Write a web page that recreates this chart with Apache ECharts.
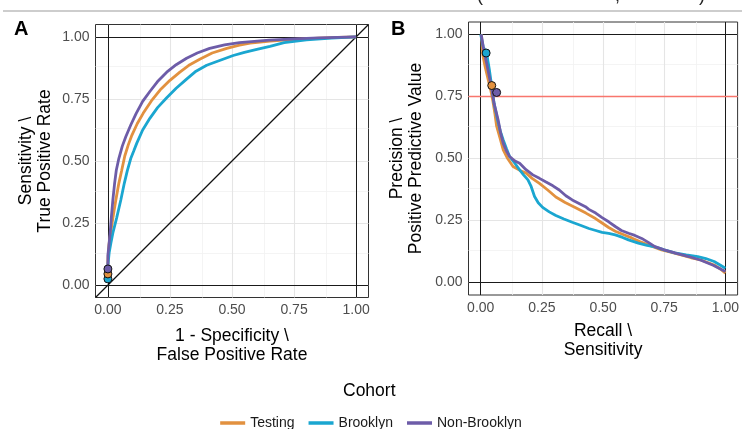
<!DOCTYPE html>
<html>
<head>
<meta charset="utf-8">
<script src="https://cdn.jsdelivr.net/npm/echarts@6/dist/echarts.min.js"></script>
<style>
  html, body { margin: 0; padding: 0; background: #fff; }
  #chart { width: 742px; height: 429px; }
</style>
</head>
<body>
<div id="chart"></div>
<script>
// Cohorts and their colours
const cohorts = ['Testing', 'Brooklyn', 'Non-Brooklyn'];
const cohortColors = ['#E2913F', '#1AA6D0', '#6D5CA8'];

// Axis ticks shared by both panels
const tickValues = [0, 0.25, 0.5, 0.75, 1];
const minorValues = [0.125, 0.375, 0.625, 0.875];

// ROC curves: [false positive rate, true positive rate]
const rocTesting = [
  [0, 0.045], [0, 0.1], [0.004, 0.16], [0.011, 0.21], [0.02, 0.27], [0.032, 0.343],
  [0.044, 0.41], [0.055, 0.46], [0.068, 0.52], [0.082, 0.565], [0.095, 0.6],
  [0.118, 0.65], [0.142, 0.692], [0.175, 0.742], [0.21, 0.786], [0.25, 0.825],
  [0.29, 0.858], [0.33, 0.888], [0.37, 0.91], [0.42, 0.935], [0.479, 0.954],
  [0.53, 0.967], [0.573, 0.975], [0.653, 0.983], [0.75, 0.99], [0.85, 0.995],
  [0.93, 0.998], [1, 1]
];
const rocBrooklyn = [
  [0, 0.025], [0, 0.08], [0.005, 0.13], [0.012, 0.17], [0.02, 0.21], [0.035, 0.27],
  [0.052, 0.343], [0.066, 0.41], [0.078, 0.46], [0.092, 0.51], [0.104, 0.54],
  [0.116, 0.571], [0.14, 0.625], [0.169, 0.672], [0.2, 0.715], [0.237, 0.755],
  [0.275, 0.793], [0.317, 0.83], [0.355, 0.862], [0.398, 0.886], [0.45, 0.905],
  [0.505, 0.925], [0.55, 0.938], [0.6, 0.95], [0.653, 0.962], [0.71, 0.977],
  [0.8, 0.988], [0.9, 0.995], [1, 1]
];
const rocNonBrooklyn = [
  [0, 0.065], [0, 0.12], [0.004, 0.16], [0.009, 0.21], [0.014, 0.275], [0.02, 0.343],
  [0.027, 0.41], [0.034, 0.464], [0.044, 0.51], [0.058, 0.56], [0.072, 0.598],
  [0.092, 0.645], [0.114, 0.692], [0.14, 0.74], [0.169, 0.78], [0.2, 0.82],
  [0.237, 0.858], [0.275, 0.888], [0.317, 0.914], [0.36, 0.935], [0.41, 0.954],
  [0.47, 0.968], [0.53, 0.977], [0.65, 0.987], [0.75, 0.992], [0.85, 0.996], [1, 1]
];

// Precision-recall curves: [recall, precision]
const prTesting = [
  [0.003, 1.0], [0.008, 0.92], [0.018, 0.87], [0.03, 0.82], [0.042, 0.77], [0.05, 0.73],
  [0.058, 0.68], [0.065, 0.63], [0.078, 0.585], [0.092, 0.535], [0.11, 0.5],
  [0.132, 0.468], [0.16, 0.452], [0.186, 0.441], [0.21, 0.42], [0.24, 0.4],
  [0.275, 0.372], [0.307, 0.345], [0.345, 0.323], [0.388, 0.302], [0.43, 0.28],
  [0.469, 0.258], [0.496, 0.24], [0.523, 0.222], [0.55, 0.207], [0.585, 0.193],
  [0.617, 0.18], [0.65, 0.165], [0.685, 0.152], [0.739, 0.132], [0.78, 0.122],
  [0.819, 0.112], [0.86, 0.1], [0.9, 0.091], [0.954, 0.071], [0.98, 0.055], [1.0, 0.038]
];
const prBrooklyn = [
  [0.0, 1.0], [0.01, 0.95], [0.024, 0.925], [0.035, 0.86], [0.045, 0.79], [0.055, 0.72],
  [0.07, 0.65], [0.08, 0.61], [0.092, 0.575], [0.105, 0.54], [0.118, 0.508],
  [0.14, 0.48], [0.159, 0.454], [0.175, 0.434], [0.193, 0.414], [0.205, 0.39],
  [0.22, 0.347], [0.235, 0.322], [0.253, 0.303], [0.28, 0.285], [0.307, 0.27],
  [0.34, 0.256], [0.374, 0.243], [0.41, 0.23], [0.442, 0.218], [0.47, 0.21],
  [0.496, 0.202], [0.523, 0.198], [0.55, 0.192], [0.58, 0.182], [0.604, 0.172],
  [0.644, 0.159], [0.68, 0.15], [0.712, 0.144], [0.75, 0.132], [0.793, 0.12],
  [0.84, 0.112], [0.887, 0.105], [0.92, 0.097], [0.954, 0.085], [0.98, 0.07], [1.0, 0.058]
];
const prNonBrooklyn = [
  [0.002, 1.0], [0.012, 0.94], [0.025, 0.88], [0.035, 0.83], [0.045, 0.78], [0.055, 0.72],
  [0.071, 0.656], [0.082, 0.6], [0.092, 0.561], [0.105, 0.53], [0.118, 0.508],
  [0.14, 0.49], [0.159, 0.481], [0.185, 0.455], [0.213, 0.434], [0.24, 0.42],
  [0.267, 0.405], [0.295, 0.39], [0.321, 0.373], [0.348, 0.35], [0.374, 0.333],
  [0.4, 0.32], [0.428, 0.306], [0.442, 0.295], [0.47, 0.28], [0.496, 0.262],
  [0.523, 0.245], [0.55, 0.226], [0.575, 0.21], [0.604, 0.199], [0.63, 0.19],
  [0.658, 0.178], [0.685, 0.162], [0.712, 0.145], [0.75, 0.132], [0.8, 0.118],
  [0.85, 0.105], [0.9, 0.09], [0.95, 0.07], [1.0, 0.045]
];

// Chosen operating points
const rocPoints = [[0, 0.045], [0, 0.025], [0, 0.065]];
const prPoints = [[0.045, 0.794], [0.022, 0.925], [0.065, 0.766]];

// Precision target line
const precisionTarget = 0.75;

const FONT = 'Liberation Sans, Arial, Helvetica, sans-serif';
const rocCurves = [rocTesting, rocBrooklyn, rocNonBrooklyn];
const prCurves = [prTesting, prBrooklyn, prNonBrooklyn];

function valueAxis(gridIndex, name, gap) {
  return {
    type: 'value', gridIndex, min: -0.05, max: 1.05,
    name, nameLocation: 'middle', nameGap: gap,
    nameTextStyle: { fontFamily: FONT, fontSize: 17.5, color: '#000', lineHeight: 19 },
    axisLine: { show: false },
    axisTick: { show: true, customValues: tickValues, length: 3, lineStyle: { color: '#333', width: 1 } },
    axisLabel: {
      show: true, customValues: tickValues, margin: 6,
      formatter: v => v.toFixed(2),
      fontFamily: FONT, fontSize: 14, color: '#4D4D4D'
    },
    splitLine: { show: false }
  };
}

// Background grid lines (major and minor), kept underneath everything else
function gridLines(xi, yi) {
  const minor = { color: '#F1F1F1', width: 0.8, type: 'solid' };
  const major = { color: '#E5E5E5', width: 1.1, type: 'solid' };
  const data = [];
  minorValues.forEach(v => {
    data.push({ xAxis: v, lineStyle: minor });
    data.push({ yAxis: v, lineStyle: minor });
  });
  tickValues.forEach(v => {
    data.push({ xAxis: v, lineStyle: major });
    data.push({ yAxis: v, lineStyle: major });
  });
  return {
    type: 'line', xAxisIndex: xi, yAxisIndex: yi, data: [], z: 1, silent: true,
    markLine: { z: 1, silent: true, symbol: ['none', 'none'], label: { show: false }, animation: false, data }
  };
}

// Reference lines at 0 and 1 on both axes
function refLines(xi, yi) {
  const style = { color: '#1A1A1A', width: 1, type: 'solid' };
  return {
    type: 'line', xAxisIndex: xi, yAxisIndex: yi, data: [], z: 2, silent: true,
    markLine: {
      z: 2, silent: true, symbol: ['none', 'none'], label: { show: false }, animation: false,
      data: [{ xAxis: 0, lineStyle: style }, { xAxis: 1, lineStyle: style },
             { yAxis: 0, lineStyle: style }, { yAxis: 1, lineStyle: style }]
    }
  };
}

const series = [gridLines(0, 0), gridLines(1, 1), refLines(0, 0), refLines(1, 1)];

// Chance diagonal in the ROC panel
series.push({
  type: 'line', xAxisIndex: 0, yAxisIndex: 0, data: [[-0.05, -0.05], [1.05, 1.05]],
  showSymbol: false, silent: true, z: 3,
  lineStyle: { color: '#111', width: 1.3 }
});

// Precision target in the PR panel
series.push({
  type: 'line', xAxisIndex: 1, yAxisIndex: 1, data: [[-0.05, precisionTarget], [1.05, precisionTarget]],
  showSymbol: false, silent: true, z: 3,
  lineStyle: { color: '#F8766D', width: 1.6 }
});

cohorts.forEach((name, i) => {
  series.push({
    name, type: 'line', xAxisIndex: 0, yAxisIndex: 0, data: rocCurves[i],
    showSymbol: false, z: 4, color: cohortColors[i],
    lineStyle: { width: 2.8, color: cohortColors[i] }
  });
  series.push({
    name, type: 'line', xAxisIndex: 1, yAxisIndex: 1, data: prCurves[i],
    showSymbol: false, z: 4, color: cohortColors[i],
    lineStyle: { width: 2.8, color: cohortColors[i] }
  });
});

// Operating points, drawn over the curves
const pointOrder = [1, 0, 2];
pointOrder.forEach(i => {
  series.push({
    name: cohorts[i] + ' point', type: 'scatter', xAxisIndex: 0, yAxisIndex: 0,
    data: [rocPoints[i]], symbolSize: 8, z: 6,
    itemStyle: { color: cohortColors[i], borderColor: '#111', borderWidth: 1, opacity: 1 }
  });
  series.push({
    name: cohorts[i] + ' point', type: 'scatter', xAxisIndex: 1, yAxisIndex: 1,
    data: [prPoints[i]], symbolSize: 8, z: 6,
    itemStyle: { color: cohortColors[i], borderColor: '#111', borderWidth: 1, opacity: 1 }
  });
});

const option = {
  animation: false,
  backgroundColor: '#fff',
  grid: [
    { left: 95.5, top: 24.5, width: 273, height: 273, show: true, borderColor: '#333', borderWidth: 1, backgroundColor: '#fff', containLabel: false },
    { left: 468.5, top: 22, width: 271, height: 273, show: true, borderColor: '#333', borderWidth: 1, backgroundColor: '#fff', containLabel: false }
  ],
  xAxis: [
    valueAxis(0, '1 - Specificity \\\nFalse Positive Rate', 29),
    valueAxis(1, 'Recall \\\nSensitivity', 27)
  ],
  yAxis: [
    valueAxis(0, 'Sensitivity \\\nTrue Positive Rate', 41),
    valueAxis(1, 'Precision \\\nPositive Predictive Value', 43)
  ],
  legend: {
    data: cohorts, left: 'center', top: 411,
    icon: 'rect', itemWidth: 25, itemHeight: 3.5, itemGap: 14,
    textStyle: { fontFamily: FONT, fontSize: 14, color: '#1A1A1A' }
  },
  graphic: [
    { type: 'line', shape: { x1: 3, y1: 11, x2: 742, y2: 11 }, style: { stroke: '#BDBDBD', lineWidth: 1.5 } },
    { type: 'text', left: 477, top: -13, style: { text: '(', fontFamily: FONT, fontSize: 18, fill: '#222' } },
    { type: 'text', left: 615, top: -13, style: { text: ',', fontFamily: FONT, fontSize: 18, fill: '#222' } },
    { type: 'text', left: 699, top: -13, style: { text: ')', fontFamily: FONT, fontSize: 18, fill: '#222' } },
    { type: 'text', left: 14, top: 19, style: { text: 'A', fontFamily: FONT, fontSize: 20, fontWeight: 'bold', fill: '#000' } },
    { type: 'text', left: 391, top: 19, style: { text: 'B', fontFamily: FONT, fontSize: 20, fontWeight: 'bold', fill: '#000' } },
    { type: 'text', left: 343, top: 382, style: { text: 'Cohort', fontFamily: FONT, fontSize: 17.5, fill: '#000' } }
  ],
  series
};

const chart = echarts.init(document.getElementById('chart'), null, { renderer: 'canvas' });
chart.setOption(option);
</script>
</body>
</html>
